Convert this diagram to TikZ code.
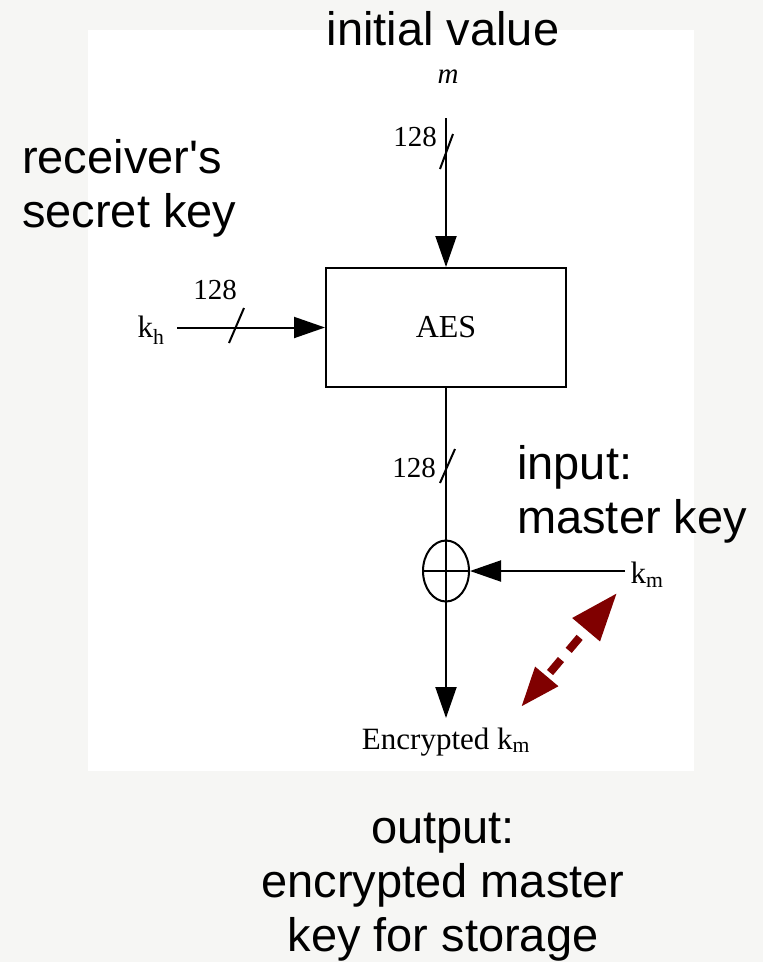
\documentclass[tikz,border=0pt]{standalone}
\usepackage{fontspec}
\setmainfont{Liberation Serif}
\newfontfamily\annfont{Liberation Sans}
\usetikzlibrary{arrows.meta,shapes.geometric}
\definecolor{bgc}{RGB}{246,246,244}
\definecolor{dred}{RGB}{128,0,0}
\begin{document}
\begin{tikzpicture}[x=1pt,y=-1pt,
  ann/.style={font=\annfont\fontsize{47}{54}\selectfont, inner sep=0pt},
  lbl/.style={font=\fontsize{29}{34}\selectfont, inner sep=0pt},
  klbl/.style={font=\fontsize{31}{36}\selectfont, inner sep=0pt},
  wire/.style={line width=2pt},
  arr/.style={wire,-{Triangle[length=31pt,width=21pt]}},
  slash/.style={line width=2pt},
]
\useasboundingbox (0,0) rectangle (763,962);
\fill[bgc] (0,0) rectangle (763,962);
\fill[white] (88,30) rectangle (694,771);

% top input
\node[ann, anchor=base] (iv) at (443,45) {initial value};
\node[lbl, anchor=base, font=\itshape\fontsize{29}{34}\selectfont] (m) at (448,83) {m};
\coordinate (mtop) at (446,118);
\node[draw, line width=2pt, minimum width=240pt, minimum height=119pt, inner sep=0pt] (aes) at (446,327.5) {\fontsize{32}{36}\selectfont AES};
\draw[arr] (mtop) -- (aes.north);
\draw[slash] (440,169) -- (453,134);
\node[lbl] (n1) at (415,137) {128};

% key input
\node[klbl] (kh) at (151,330) {k\textsubscript{h}};
\coordinate (khs) at (177,327.5);
\draw[arr] (khs) -- (aes.west);
\draw[slash] (229,343) -- (244,308);
\node[lbl] (n2) at (215,290) {128};

% xor
\node[draw, ellipse, line width=2pt, minimum width=46pt, minimum height=61pt, inner sep=0pt] (xor) at (446,571) {};
\draw[wire] (xor.north) -- (xor.south) (xor.west) -- (xor.east);
\draw[wire] (aes.south) -- (xor.north);
\draw[slash] (440,483) -- (455,449);
\node[lbl] (n3) at (414,468) {128};

\node[klbl] (km) at (647,575) {k\textsubscript{m}};
\coordinate (kms) at (625,571);
\draw[arr] (kms) -- (xor.east);

\node[klbl, anchor=base] (enc) at (446,749) {Encrypted k\textsubscript{m}};
\coordinate (enctip) at (446,718);
\draw[arr] (xor.south) -- (enctip);

% red dashed double arrow
\coordinate (r1) at (617,593);
\coordinate (r2) at (521,707);
\draw[dred, line width=8pt, dash pattern=on 17pt off 12pt, dash phase=17pt,
  {Triangle[length=48pt,width=34pt]}-{Triangle[length=40pt,width=28pt]}] (r1) -- (r2);

% annotations
\node[ann, anchor=base west, align=left] (rs) at (22,227) {receiver\textquotesingle s\\secret key};
\node[ann, anchor=base west, align=left] (mk) at (517,533) {input:\\master key};
\node[ann, anchor=base, align=center] (out) at (443,951) {output:\\encrypted master\\key for storage};
\end{tikzpicture}
\end{document}
